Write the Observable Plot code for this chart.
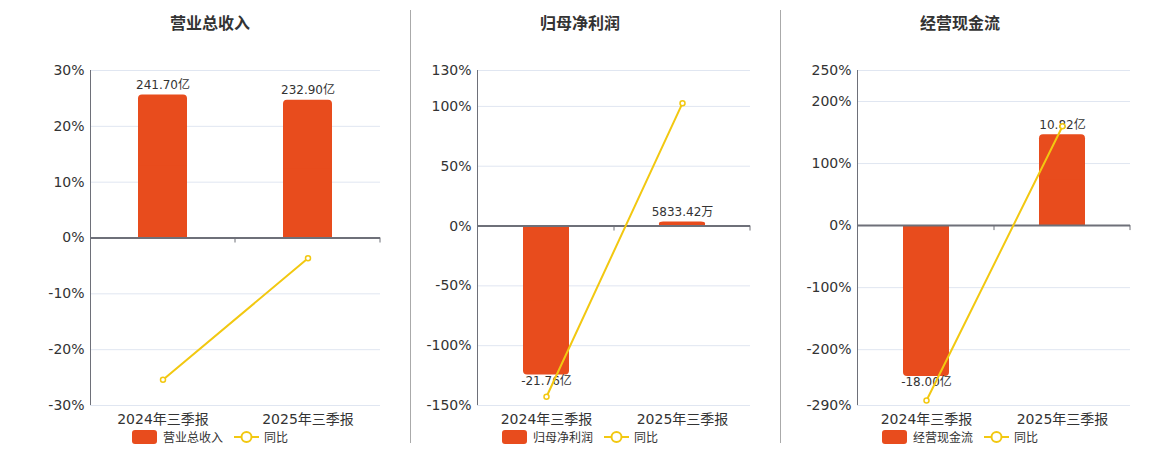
<!DOCTYPE html>
<html>
<head>
<meta charset="utf-8">
<script src="https://cdn.jsdelivr.net/npm/d3@7"></script>
<script src="https://cdn.jsdelivr.net/npm/@observablehq/plot@0.6"></script>
<style>
  html, body { margin: 0; padding: 0; background: #fff; }
  #root { position: relative; width: 1160px; height: 450px; overflow: hidden;
    font-family: "DejaVu Sans", "Noto Sans CJK SC", sans-serif; color: #333; }
  .panel { position: absolute; top: 0; }
  .title { position: absolute; top: 10px; width: 300px; margin-left: -150px; text-align: center;
    font: bold 16px "Noto Sans CJK SC", sans-serif; color: #333; line-height: 24px; }
  .legend { position: absolute; top: 428px; width: 300px; margin-left: -150px; display: flex;
    justify-content: center; align-items: center; font: 12px "Noto Sans CJK SC", sans-serif; color: #333; }
  .sep { position: absolute; top: 10px; width: 1px; height: 433px; background: #aaa; }
</style>
</head>
<body>
<div id="root"></div>
<script>
// ---- data ----
const categories = ["2024年三季报", "2025年三季报"];
const titles = ["营业总收入", "归母净利润", "经营现金流"];
const revenue = [241.70, 232.90];          // 亿
const netProfit = [-21.76, 0.583342];      // 亿
const cashFlow = [-18.00, 10.82];          // 亿
const revenueLabels = ["241.70亿", "232.90亿"];
const netProfitLabels = ["-21.76亿", "5833.42万"];
const cashFlowLabels = ["-18.00亿", "10.82亿"];
const revenueYoY = [-25.4, -3.64];         // %
const netProfitYoY = [-142.7, 102.7];      // %
const cashFlowYoY = [-282, 160.1];         // %
const yTicks1 = [-30, -20, -10, 0, 10, 20, 30];
const yTicks2 = [-150, -100, -50, 0, 50, 100, 130];
const yTicks3 = [-290, -200, -100, 0, 100, 200, 250];
// bottom of the hidden secondary (amount) axis for each panel, 亿
const barAxisMin = [-283, -26.2, -21.45];

const RED = "#e84c1d", YEL = "#f2c811", AXIS = "#6e7079", GRID = "#e0e6f1";

const panels = [
  {title: titles[0], values: revenue, labels: revenueLabels, yoy: revenueYoY, ticks: yTicks1, barMin: barAxisMin[0],
   left: 0, width: 400, ml: 90, mr: 20, inset: 48, center: 210},
  {title: titles[1], values: netProfit, labels: netProfitLabels, yoy: netProfitYoY, ticks: yTicks2, barMin: barAxisMin[1],
   left: 400, width: 380, ml: 77, mr: 30, inset: 45, center: 580},
  {title: titles[2], values: cashFlow, labels: cashFlowLabels, yoy: cashFlowYoY, ticks: yTicks3, barMin: barAxisMin[2],
   left: 780, width: 380, ml: 77, mr: 30, inset: 45, center: 960}
];

const root = document.getElementById("root");
const H = 450, MT = 70, MB = 45;

panels.forEach((p, pi) => {
  const pctMin = d3.min(p.ticks), pctMax = d3.max(p.ticks);
  const k = pctMin / p.barMin;
  const rows = categories.map((c, i) => ({cat: c, amt: p.values[i], bar: p.values[i] * k, label: p.labels[i], yoy: p.yoy[i]}));
  const chart = Plot.plot({
    width: p.width, height: H,
    marginLeft: p.ml, marginRight: p.mr, marginTop: MT, marginBottom: MB,
    style: {fontFamily: '"DejaVu Sans", "Noto Sans CJK SC", sans-serif', fontSize: "14px", color: "#333", background: "transparent"},
    x: {type: "band", domain: categories, padding: 0, tickSize: 0, tickPadding: 9, label: null},
    y: {domain: [pctMin, pctMax], ticks: p.ticks, tickFormat: d => d + "%", tickSize: 0, tickPadding: 6, label: null},
    marks: [
      Plot.ruleY(p.ticks, {stroke: GRID, strokeWidth: 1}),
      Plot.barY(rows, {x: "cat", y1: 0, y2: "bar", fill: RED, rx: 4, insetLeft: p.inset, insetRight: p.inset}),
      Plot.barY(rows, {x: "cat", y1: 0, y2: d => d.bar / 2, fill: RED, insetLeft: p.inset, insetRight: p.inset}),
      Plot.ruleY([0], {stroke: AXIS, strokeWidth: 2}),
      Plot.text(rows.filter(d => d.amt >= 0), {x: "cat", y: "bar", text: "label", dy: -6, lineAnchor: "bottom", fontSize: 12, fill: "#333"}),
      Plot.text(rows.filter(d => d.amt < 0), {x: "cat", y: "bar", text: "label", dy: 1, lineAnchor: "top", fontSize: 12, fill: "#333"}),
      Plot.line(rows, {x: "cat", y: "yoy", stroke: YEL, strokeWidth: 2}),
      Plot.dot(rows, {x: "cat", y: "yoy", r: 2.5, fill: "#fff", stroke: YEL, strokeWidth: 1.5})
    ]
  });
  // axis lines through Plot's own scales
  const sx = chart.scale("x"), sy = chart.scale("y");
  const g = d3.select(chart).append("g");
  g.append("line").attr("x1", p.ml + 0.5).attr("x2", p.ml + 0.5)
    .attr("y1", sy.apply(pctMax)).attr("y2", sy.apply(pctMin)).attr("stroke", AXIS).attr("stroke-width", 1);
  categories.forEach(c => {
    const xe = sx.apply(c) + sx.bandwidth;
    g.append("line").attr("x1", xe).attr("x2", xe).attr("y1", sy.apply(0)).attr("y2", sy.apply(0) + 5)
      .attr("stroke", AXIS).attr("stroke-width", 1);
  });
  const wrap = document.createElement("div");
  wrap.className = "panel";
  wrap.style.left = p.left + "px";
  wrap.appendChild(chart);
  root.appendChild(wrap);

  const t = document.createElement("div");
  t.className = "title"; t.style.left = p.center + "px"; t.textContent = p.title;
  root.appendChild(t);

  const lg = document.createElement("div");
  lg.className = "legend"; lg.style.left = p.center + "px";
  lg.innerHTML =
    `<span style="display:inline-block;width:25px;height:14px;border-radius:3px;background:${RED};margin-right:6px"></span>` +
    `<span>${p.title}</span>` +
    `<svg width="25" height="14" style="margin-left:11px;margin-right:5px"><line x1="0" x2="25" y1="7" y2="7" stroke="${YEL}" stroke-width="2"/><circle cx="12.5" cy="7" r="5" fill="#fff" stroke="${YEL}" stroke-width="2"/></svg>` +
    `<span>同比</span>`;
  root.appendChild(lg);
});

[410, 780].forEach(x => {
  const s = document.createElement("div");
  s.className = "sep"; s.style.left = x + "px";
  root.appendChild(s);
});
</script>
</body>
</html>
